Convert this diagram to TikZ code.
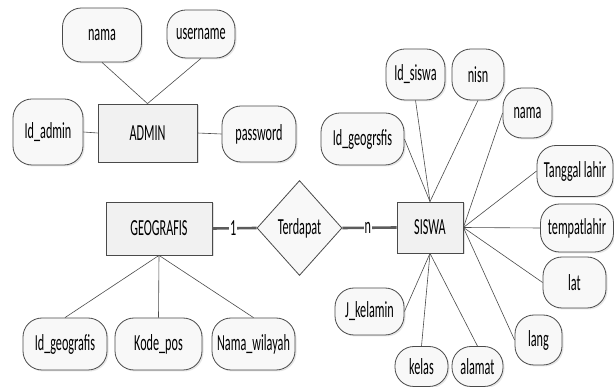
\documentclass[tikz,border=0pt]{standalone}
\usepackage{fontspec}
\setmainfont{Carlito}[FakeStretch=0.53]
\usetikzlibrary{shapes.geometric,shadows}
\definecolor{edge}{HTML}{4A4A4A}
\definecolor{boxfill}{HTML}{F1F1F1}
\definecolor{attrfill}{HTML}{F8F8F8}
\tikzset{
  every node/.style={font=\fontsize{23}{24}\selectfont, text=black},
  entity/.style={draw=edge, line width=0.8pt, fill=boxfill, inner sep=0pt,
    drop shadow={opacity=0.25, shadow xshift=1.5pt, shadow yshift=-1.5pt}},
  attr/.style={draw=edge, line width=0.8pt, fill=attrfill, rounded corners=19pt, inner sep=0pt,
    drop shadow={opacity=0.2, shadow xshift=1.5pt, shadow yshift=-1.5pt}},
  rel/.style={diamond, draw=edge, line width=0.8pt, fill=attrfill, inner sep=0pt,
    minimum width=85pt, minimum height=95pt},
  link/.style={draw=edge, line width=0.6pt},
  heavy/.style={draw=edge!90, line width=2.6pt},
  card/.style={fill=white, inner sep=1pt}
}
\begin{document}
\begin{tikzpicture}[x=1pt, y=-1pt]
\useasboundingbox (0,0) rectangle (614,387);

% ADMIN entity and its attributes
\node[entity, minimum width=99pt, minimum height=58pt] (admin) at (147.5,133) {ADMIN};
\node[attr, minimum width=79pt, minimum height=54pt] (anama) at (102,35) {nama};
\node[attr, minimum width=68pt, minimum height=48pt] (auser) at (201,34) {username};
\node[attr, minimum width=70pt, minimum height=66pt] (aid) at (48,132) {Id\_admin};
\node[attr, minimum width=74pt, minimum height=56pt] (apass) at (259,134) {password};

% GEOGRAFIS entity and its attributes
\node[entity, minimum width=106pt, minimum height=53pt] (geo) at (159,228.5) {GEOGRAFIS};
\node[attr, minimum width=84pt, minimum height=52pt] (gid) at (65,344) {Id\_geografis};
\node[attr, minimum width=87pt, minimum height=52pt] (gpos) at (158.5,344) {Kode\_pos};
\node[attr, minimum width=83pt, minimum height=52pt] (gwil) at (253.5,344) {Nama\_wilayah};

% relationship
\node[rel] (terdapat) at (299.5,228) {Terdapat};

% SISWA entity and its attributes
\node[entity, minimum width=66pt, minimum height=51pt] (siswa) at (430,227.5) {SISWA};
\node[attr, minimum width=59pt, minimum height=51pt] (sid) at (415.5,74.5) {Id\_siswa};
\node[attr, minimum width=52pt, minimum height=51pt] (snisn) at (478,74.5) {nisn};
\node[attr, minimum width=49pt, minimum height=50pt] (snama) at (527.5,113) {nama};
\node[attr, minimum width=83pt, minimum height=52pt] (sgeo) at (362.5,139) {Id\_geogrsfis};
\node[attr, minimum width=76pt, minimum height=51pt] (stgl) at (575,171) {Tanggal lahir};
\node[attr, minimum width=73pt, minimum height=48pt] (stmp) at (577,228) {tempatlahir};
\node[attr, minimum width=63pt, minimum height=51pt] (slat) at (574.5,282.5) {lat};
\node[attr, minimum width=47pt, minimum height=50pt] (slang) at (538.5,340) {lang};
\node[attr, minimum width=69pt, minimum height=47pt] (sjk) at (369.5,311.5) {J\_kelamin};
\node[attr, minimum width=53pt, minimum height=40pt] (skelas) at (421.5,366.5) {kelas};
\node[attr, minimum width=51pt, minimum height=40pt] (salamat) at (477.5,366.5) {alamat};

% attribute links
\draw[link] (anama.south) -- (admin.north);
\draw[link] (auser.south) -- (admin.north);
\draw[link] (aid.east) -- (admin.west);
\draw[link] (apass.west) -- (admin.east);

\draw[link] (geo.south) -- (gid.north);
\draw[link] (geo.south) -- (gpos.north);
\draw[link] (geo.south) -- (gwil.north);

\draw[link] (siswa.north) -- (sid.south);
\draw[link] (siswa.north) -- (snisn.south);
\draw[link] (siswa.north) -- (sgeo.east);
\draw[link] (siswa.east) -- (snama.west);
\draw[link] (siswa.east) -- (stgl.west);
\draw[link] (siswa.east) -- (stmp.west);
\draw[link] (siswa.east) -- (slat.west);
\draw[link] (siswa.east) -- (slang.west);
\draw[link] (siswa.south) -- (sjk.east);
\draw[link] (siswa.south) -- (skelas.north);
\draw[link] (siswa.south) -- (salamat.north);

% relationship links with cardinalities
\draw[heavy] (geo.east) -- (terdapat.west) node[card, pos=0.47] {1};
\draw[heavy] (terdapat.east) -- (siswa.west) node[card, pos=0.47] {n};
\end{tikzpicture}
\end{document}
